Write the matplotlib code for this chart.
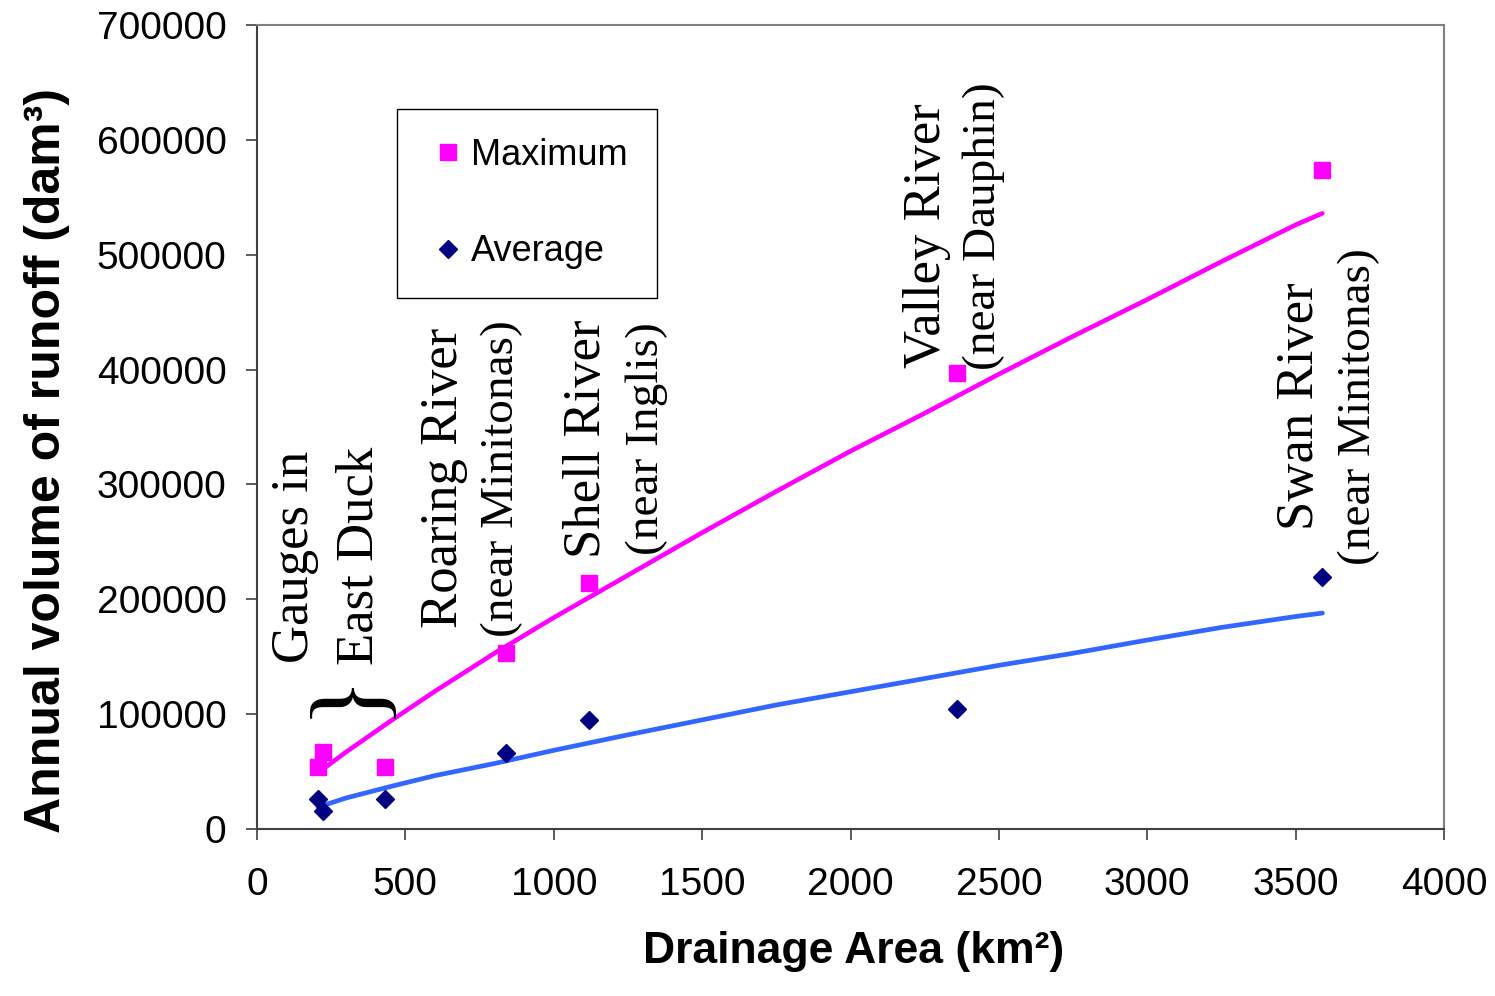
import matplotlib
matplotlib.use("Agg")
import matplotlib.pyplot as plt
from matplotlib.lines import Line2D

# ---- data ----
area = [207, 222, 430, 838, 1120, 2358, 3588]
maximum = [54000, 67000, 54000, 153000, 214000, 397000, 574000]
average = [26000, 16000, 26000, 66000, 95000, 104500, 219000]

trend_x = [206, 300, 450, 600, 800, 1000, 1250, 1500, 1750, 2000, 2250,
           2500, 2750, 3000, 3250, 3500, 3590]
trend_max = [49000, 67000, 94000, 120000, 153000, 184000, 221000, 258000,
             294000, 329000, 362000, 396000, 429000, 461000, 494000,
             526000, 536000]
trend_avg = [19000, 27000, 37000, 46500, 57000, 68500, 82000, 95000,
             108000, 119500, 131000, 142500, 153000, 164500, 175500,
             185000, 188000]

x_ticks = [0, 500, 1000, 1500, 2000, 2500, 3000, 3500, 4000]
y_ticks = [0, 100000, 200000, 300000, 400000, 500000, 600000, 700000]

site_labels = ["Gauges in", "East Duck", "Roaring River", "(near Minitonas)",
               "Shell River", "(near Inglis)", "Valley River",
               "(near Dauphin)", "Swan River", "(near Minitonas)"]
site_label_x = [172, 388, 674, 863, 1156, 1351, 2302, 2487, 3559, 3751]
site_label_y = [144500, 142800, 175000, 167200, 235900, 238500, 401300,
                399600, 260300, 229800]
site_label_size = [38, 38, 38, 34, 38, 34, 38, 34, 38, 34]

# ---- figure ----
W, H = 1495, 996
fig = plt.figure(figsize=(W / 100, H / 100), dpi=100)
ax = fig.add_axes([257 / W, 1 - 829 / H, (1444 - 257) / W, (829 - 25) / H])

sans = "Liberation Sans"
serif = "Liberation Serif"

ax.plot(trend_x, trend_max, color="#FF00FF", lw=3.3, solid_capstyle="round", zorder=2)
ax.plot(trend_x, trend_avg, color="#3366FF", lw=3.4, solid_capstyle="round", zorder=2)
ax.plot(area, maximum, ls="none", marker="s", ms=11, color="#FF00FF",
        mec="#FF00FF", zorder=3)
ax.plot(area, average, ls="none", marker="D", ms=9.5, color="#000080",
        mec="#000080", zorder=3)

ax.set_xlim(0, 4000)
ax.set_ylim(0, 700000)
ax.set_xticks(x_ticks)
ax.set_yticks(y_ticks)
ax.set_xticklabels([str(v) for v in x_ticks], fontfamily=sans, fontsize=28)
ax.set_yticklabels([str(v) for v in y_ticks], fontfamily=sans, fontsize=28)
ax.tick_params(axis="x", direction="out", length=8, width=1.2, color="#404040", pad=19)
ax.tick_params(axis="y", direction="out", length=8, width=1.2, color="#404040", pad=14)

for s in ["left", "bottom"]:
    ax.spines[s].set_color("#404040")
    ax.spines[s].set_linewidth(1.5)
for s in ["top", "right"]:
    ax.spines[s].set_color("#808080")
    ax.spines[s].set_linewidth(1.5)

ax.set_xlabel("Drainage Area (km²)", fontfamily=sans, fontweight="bold", fontsize=32)
ax.xaxis.set_label_coords(0.503, (829 - 963) / 804)
ax.xaxis.label.set_va("baseline")
ax.set_ylabel("Annual volume of runoff (dam³)", fontfamily=sans,
              fontweight="bold", fontsize=36)
ax.yaxis.set_label_coords((60 - 257) / 1187, (829 - 460) / 804)
ax.yaxis.label.set_va("baseline")

for lab, lx, ly, fs in zip(site_labels, site_label_x, site_label_y, site_label_size):
    ax.text(lx, ly, lab, rotation=90, rotation_mode="anchor", ha="left",
            va="baseline", fontfamily=serif, fontsize=fs, color="black")

ax.text(310, 118400, "}", rotation=90, rotation_mode="anchor", ha="center",
        va="center", fontfamily=serif, fontsize=74, color="black")

handles = [Line2D([], [], ls="none", marker="s", ms=11, color="#FF00FF"),
           Line2D([], [], ls="none", marker="D", ms=9.5, color="#000080")]
leg = ax.legend(handles, ["Maximum", "Average"], loc="upper left",
                bbox_to_anchor=(397 / W, 1 - 109 / H),
                bbox_transform=fig.transFigure, borderaxespad=0,
                prop={"family": sans, "size": 26}, frameon=True,
                fancybox=False, framealpha=1, edgecolor="black",
                borderpad=0.8, labelspacing=1.7, handlelength=1.2,
                handletextpad=0.05)
leg.get_frame().set_linewidth(1.0)

fig.savefig("out.png", dpi=100)
